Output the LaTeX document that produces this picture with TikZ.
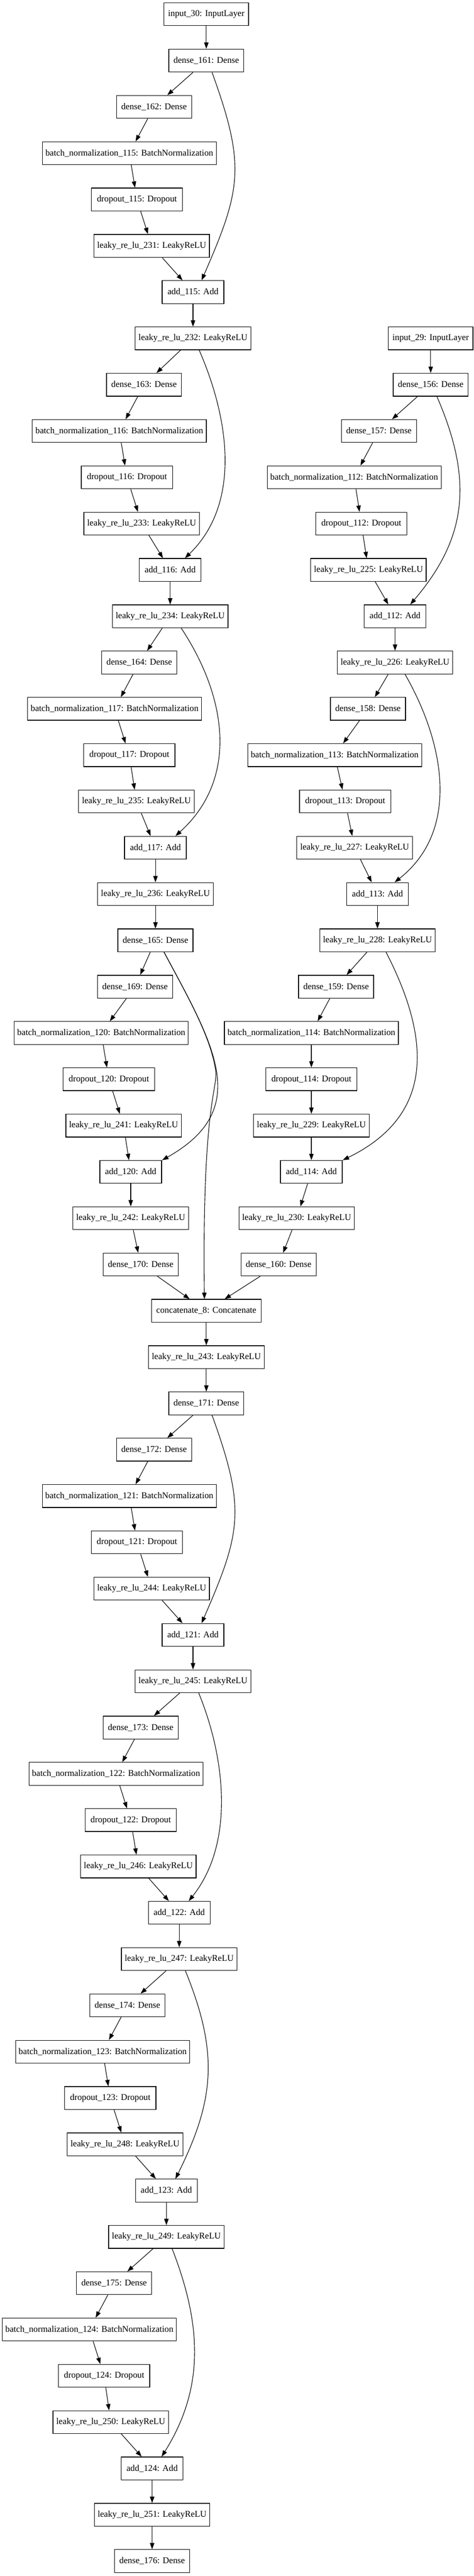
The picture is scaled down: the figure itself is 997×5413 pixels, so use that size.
\documentclass[tikz,border=0pt]{standalone}
\usepackage{fontspec}
\setmainfont{Liberation Serif}
\usetikzlibrary{arrows.meta}

\begin{document}
\begin{tikzpicture}[x=0.75pt, y=-0.75pt]
    \pgfdeclarelayer{nodelayer}
    \pgfdeclarelayer{edgelayer}
    \pgfsetlayers{nodelayer,edgelayer}
    \tikzstyle{layer}=[draw, line width=1pt, inner sep=0pt, minimum height=36pt, font=\fontsize{14}{16}\selectfont]
    \tikzstyle{inputbox}=[layer, minimum width=133.5pt]
    \tikzstyle{densebox}=[layer, minimum width=118.5pt]
    \tikzstyle{bnbox}=[layer, minimum width=274.5pt]
    \tikzstyle{dropbox}=[layer, minimum width=144pt]
    \tikzstyle{leakybox}=[layer, minimum width=182.25pt]
    \tikzstyle{addbox}=[layer, minimum width=97.5pt]
    \tikzstyle{catbox}=[layer, minimum width=173.25pt]
    \tikzstyle{flow}=[-{Triangle[length=10pt, width=7pt]}, line width=0.9pt]
    %\tikzstyle{skip}=[flow, dashed]
    \tikzstyle{skip}=[flow]
    \useasboundingbox (0,0) rectangle (997,5413);
	\begin{pgfonlayer}{nodelayer}
		% left branch
		\node [style=inputbox] (in30) at (434, 30) {input\_30: InputLayer};
		\node [style=densebox] (d161) at (434, 127.3) {dense\_161: Dense};
		\node [style=densebox] (d162) at (324, 224.6) {dense\_162: Dense};
		\node [style=bnbox] (bn115) at (272, 321.9) {batch\_normalization\_115: BatchNormalization};
		\node [style=dropbox] (do115) at (288, 419.2) {dropout\_115: Dropout};
		\node [style=leakybox] (lk231) at (319, 516.5) {leaky\_re\_lu\_231: LeakyReLU};
		\node [style=addbox] (a115) at (406, 613.8) {add\_115: Add};
		\node [style=leakybox] (lk232) at (406, 711.1) {leaky\_re\_lu\_232: LeakyReLU};
		\node [style=densebox] (d163) at (303, 808.4) {dense\_163: Dense};
		\node [style=bnbox] (bn116) at (251, 905.7) {batch\_normalization\_116: BatchNormalization};
		\node [style=dropbox] (do116) at (267, 1003) {dropout\_116: Dropout};
		\node [style=leakybox] (lk233) at (298, 1100.3) {leaky\_re\_lu\_233: LeakyReLU};
		\node [style=addbox] (a116) at (358, 1197.6) {add\_116: Add};
		\node [style=leakybox] (lk234) at (358, 1294.9) {leaky\_re\_lu\_234: LeakyReLU};
		\node [style=densebox] (d164) at (293, 1392.2) {dense\_164: Dense};
		\node [style=bnbox] (bn117) at (241, 1489.5) {batch\_normalization\_117: BatchNormalization};
		\node [style=dropbox] (do117) at (272, 1586.8) {dropout\_117: Dropout};
		\node [style=leakybox] (lk235) at (287, 1684.1) {leaky\_re\_lu\_235: LeakyReLU};
		\node [style=addbox] (a117) at (327, 1781.4) {add\_117: Add};
		\node [style=leakybox] (lk236) at (327, 1878.7) {leaky\_re\_lu\_236: LeakyReLU};
		\node [style=densebox] (d165) at (327, 1976) {dense\_165: Dense};
		\node [style=densebox] (d169) at (284, 2073.3) {dense\_169: Dense};
		\node [style=bnbox] (bn120) at (213, 2170.6) {batch\_normalization\_120: BatchNormalization};
		\node [style=dropbox] (do120) at (229, 2267.9) {dropout\_120: Dropout};
		\node [style=leakybox] (lk241) at (260, 2365.2) {leaky\_re\_lu\_241: LeakyReLU};
		\node [style=addbox] (a120) at (275, 2462.5) {add\_120: Add};
		\node [style=leakybox] (lk242) at (275, 2559.8) {leaky\_re\_lu\_242: LeakyReLU};
		\node [style=densebox] (d170) at (296, 2657.1) {dense\_170: Dense};
		% right branch
		\node [style=inputbox] (in29) at (906, 711.1) {input\_29: InputLayer};
		\node [style=densebox] (d156) at (906, 808.4) {dense\_156: Dense};
		\node [style=densebox] (d157) at (797, 905.7) {dense\_157: Dense};
		\node [style=bnbox] (bn112) at (745, 1003) {batch\_normalization\_112: BatchNormalization};
		\node [style=dropbox] (do112) at (760, 1100.3) {dropout\_112: Dropout};
		\node [style=leakybox] (lk225) at (775, 1197.6) {leaky\_re\_lu\_225: LeakyReLU};
		\node [style=addbox] (a112) at (831, 1294.9) {add\_112: Add};
		\node [style=leakybox] (lk226) at (831, 1392.2) {leaky\_re\_lu\_226: LeakyReLU};
		\node [style=densebox] (d158) at (774, 1489.5) {dense\_158: Dense};
		\node [style=bnbox] (bn113) at (704, 1586.8) {batch\_normalization\_113: BatchNormalization};
		\node [style=dropbox] (do113) at (726, 1684.1) {dropout\_113: Dropout};
		\node [style=leakybox] (lk227) at (746, 1781.4) {leaky\_re\_lu\_227: LeakyReLU};
		\node [style=addbox] (a113) at (794, 1878.7) {add\_113: Add};
		\node [style=leakybox] (lk228) at (794, 1976) {leaky\_re\_lu\_228: LeakyReLU};
		\node [style=densebox] (d159) at (707, 2073.3) {dense\_159: Dense};
		\node [style=bnbox] (bn114) at (655, 2170.6) {batch\_normalization\_114: BatchNormalization};
		\node [style=dropbox] (do114) at (655, 2267.9) {dropout\_114: Dropout};
		\node [style=leakybox] (lk229) at (655, 2365.2) {leaky\_re\_lu\_229: LeakyReLU};
		\node [style=addbox] (a114) at (655, 2462.5) {add\_114: Add};
		\node [style=leakybox] (lk230) at (624, 2559.8) {leaky\_re\_lu\_230: LeakyReLU};
		\node [style=densebox] (d160) at (586, 2657.1) {dense\_160: Dense};
		% merged trunk
		\node [style=catbox] (cat8) at (434, 2754.4) {concatenate\_8: Concatenate};
		\node [style=leakybox] (lk243) at (434, 2851.7) {leaky\_re\_lu\_243: LeakyReLU};
		\node [style=densebox] (d171) at (434, 2949) {dense\_171: Dense};
		\node [style=densebox] (d172) at (324, 3046.3) {dense\_172: Dense};
		\node [style=bnbox] (bn121) at (272, 3143.6) {batch\_normalization\_121: BatchNormalization};
		\node [style=dropbox] (do121) at (288, 3240.9) {dropout\_121: Dropout};
		\node [style=leakybox] (lk244) at (319, 3338.2) {leaky\_re\_lu\_244: LeakyReLU};
		\node [style=addbox] (a121) at (406, 3435.5) {add\_121: Add};
		\node [style=leakybox] (lk245) at (406, 3532.8) {leaky\_re\_lu\_245: LeakyReLU};
		\node [style=densebox] (d173) at (296, 3630.1) {dense\_173: Dense};
		\node [style=bnbox] (bn122) at (244, 3727.4) {batch\_normalization\_122: BatchNormalization};
		\node [style=dropbox] (do122) at (275, 3824.7) {dropout\_122: Dropout};
		\node [style=leakybox] (lk246) at (291, 3922) {leaky\_re\_lu\_246: LeakyReLU};
		\node [style=addbox] (a122) at (377, 4019.3) {add\_122: Add};
		\node [style=leakybox] (lk247) at (377, 4116.6) {leaky\_re\_lu\_247: LeakyReLU};
		\node [style=densebox] (d174) at (268, 4213.9) {dense\_174: Dense};
		\node [style=bnbox] (bn123) at (216, 4311.2) {batch\_normalization\_123: BatchNormalization};
		\node [style=dropbox] (do123) at (232, 4408.5) {dropout\_123: Dropout};
		\node [style=leakybox] (lk248) at (263, 4505.8) {leaky\_re\_lu\_248: LeakyReLU};
		\node [style=addbox] (a123) at (350, 4603.1) {add\_123: Add};
		\node [style=leakybox] (lk249) at (350, 4700.4) {leaky\_re\_lu\_249: LeakyReLU};
		\node [style=densebox] (d175) at (240, 4797.7) {dense\_175: Dense};
		\node [style=bnbox] (bn124) at (188, 4895) {batch\_normalization\_124: BatchNormalization};
		\node [style=dropbox] (do124) at (219, 4992.3) {dropout\_124: Dropout};
		\node [style=leakybox] (lk250) at (233, 5089.6) {leaky\_re\_lu\_250: LeakyReLU};
		\node [style=addbox] (a124) at (320, 5186.9) {add\_124: Add};
		\node [style=leakybox] (lk251) at (320, 5284.2) {leaky\_re\_lu\_251: LeakyReLU};
		\node [style=densebox] (d176) at (320, 5381.5) {dense\_176: Dense};
	\end{pgfonlayer}
	\begin{pgfonlayer}{edgelayer}
		\draw [style=flow] (in30) -- (d161);
		\draw [style=flow] (d161) -- (d162);
		\draw [style=flow] (d162) -- (bn115);
		\draw [style=flow] (bn115) -- (do115);
		\draw [style=flow] (do115) -- (lk231);
		\draw [style=flow] (lk231) -- (a115);
		\draw [style=flow] (a115) -- (lk232);
		\draw [style=flow] (lk232) -- (d163);
		\draw [style=flow] (d163) -- (bn116);
		\draw [style=flow] (bn116) -- (do116);
		\draw [style=flow] (do116) -- (lk233);
		\draw [style=flow] (lk233) -- (a116);
		\draw [style=flow] (a116) -- (lk234);
		\draw [style=flow] (lk234) -- (d164);
		\draw [style=flow] (d164) -- (bn117);
		\draw [style=flow] (bn117) -- (do117);
		\draw [style=flow] (do117) -- (lk235);
		\draw [style=flow] (lk235) -- (a117);
		\draw [style=flow] (a117) -- (lk236);
		\draw [style=flow] (lk236) -- (d165);
		\draw [style=flow] (d165) -- (d169);
		\draw [style=flow] (d169) -- (bn120);
		\draw [style=flow] (bn120) -- (do120);
		\draw [style=flow] (do120) -- (lk241);
		\draw [style=flow] (lk241) -- (a120);
		\draw [style=flow] (a120) -- (lk242);
		\draw [style=flow] (lk242) -- (d170);
		\draw [style=flow] (d170) -- (cat8);

		\draw [style=flow] (in29) -- (d156);
		\draw [style=flow] (d156) -- (d157);
		\draw [style=flow] (d157) -- (bn112);
		\draw [style=flow] (bn112) -- (do112);
		\draw [style=flow] (do112) -- (lk225);
		\draw [style=flow] (lk225) -- (a112);
		\draw [style=flow] (a112) -- (lk226);
		\draw [style=flow] (lk226) -- (d158);
		\draw [style=flow] (d158) -- (bn113);
		\draw [style=flow] (bn113) -- (do113);
		\draw [style=flow] (do113) -- (lk227);
		\draw [style=flow] (lk227) -- (a113);
		\draw [style=flow] (a113) -- (lk228);
		\draw [style=flow] (lk228) -- (d159);
		\draw [style=flow] (d159) -- (bn114);
		\draw [style=flow] (bn114) -- (do114);
		\draw [style=flow] (do114) -- (lk229);
		\draw [style=flow] (lk229) -- (a114);
		\draw [style=flow] (a114) -- (lk230);
		\draw [style=flow] (lk230) -- (d160);
		\draw [style=flow] (d160) -- (cat8);

		\draw [style=flow] (cat8) -- (lk243);
		\draw [style=flow] (lk243) -- (d171);
		\draw [style=flow] (d171) -- (d172);
		\draw [style=flow] (d172) -- (bn121);
		\draw [style=flow] (bn121) -- (do121);
		\draw [style=flow] (do121) -- (lk244);
		\draw [style=flow] (lk244) -- (a121);
		\draw [style=flow] (a121) -- (lk245);
		\draw [style=flow] (lk245) -- (d173);
		\draw [style=flow] (d173) -- (bn122);
		\draw [style=flow] (bn122) -- (do122);
		\draw [style=flow] (do122) -- (lk246);
		\draw [style=flow] (lk246) -- (a122);
		\draw [style=flow] (a122) -- (lk247);
		\draw [style=flow] (lk247) -- (d174);
		\draw [style=flow] (d174) -- (bn123);
		\draw [style=flow] (bn123) -- (do123);
		\draw [style=flow] (do123) -- (lk248);
		\draw [style=flow] (lk248) -- (a123);
		\draw [style=flow] (a123) -- (lk249);
		\draw [style=flow] (lk249) -- (d175);
		\draw [style=flow] (d175) -- (bn124);
		\draw [style=flow] (bn124) -- (do124);
		\draw [style=flow] (do124) -- (lk250);
		\draw [style=flow] (lk250) -- (a124);
		\draw [style=flow] (a124) -- (lk251);
		\draw [style=flow] (lk251) -- (d176);

		% residual links
		\draw [style=skip] ([shift={(12,0)}]d161.south) .. controls +(71,196) and +(84,-192) .. ([shift={(18,0)}]a115.north);
		\draw [style=skip] ([shift={(13,0)}]lk232.south) .. controls +(65,149) and +(117,-113) .. ([shift={(31,0)}]a116.north);
		\draw [style=skip] ([shift={(23,0)}]lk234.south) .. controls +(98,148) and +(132,-119) .. ([shift={(42,0)}]a117.north);
		\draw [style=skip] ([shift={(18,0)}]d165.south) .. controls +(104,194) and +(192,-108) .. ([shift={(66,0)}]a120.north);
		\draw [style=skip] ([shift={(18,0)}]d165.south) .. controls +(52,97) and (444,2180) .. (454,2252) .. controls (457,2290) and (425,2330) .. ([shift={(-4,0)}]cat8.north);
		\draw [style=skip] ([shift={(13,0)}]d156.south) .. controls +(75,173) and +(122,-143) .. ([shift={(32,0)}]a112.north);
		\draw [style=skip] ([shift={(21,0)}]lk226.south) .. controls +(86,150) and +(136,-107) .. ([shift={(36,0)}]a113.north);
		\draw [style=skip] ([shift={(18,0)}]lk228.south) .. controls +(97,188) and +(190,-93) .. ([shift={(66,0)}]a114.north);
		\draw [style=skip] ([shift={(12,0)}]d171.south) .. controls +(71,196) and +(84,-192) .. ([shift={(18,0)}]a121.north);
		\draw [style=skip] ([shift={(12,0)}]lk245.south) .. controls +(58,142) and +(95,-119) .. ([shift={(20,0)}]a122.north);
		\draw [style=skip] ([shift={(13,0)}]lk247.south) .. controls +(70,172) and +(83,-167) .. ([shift={(19,0)}]a123.north);
		\draw [style=skip] ([shift={(12,0)}]lk249.south) .. controls +(62,159) and +(91,-145) .. ([shift={(20,0)}]a124.north);
	\end{pgfonlayer}
\end{tikzpicture}
\end{document}
